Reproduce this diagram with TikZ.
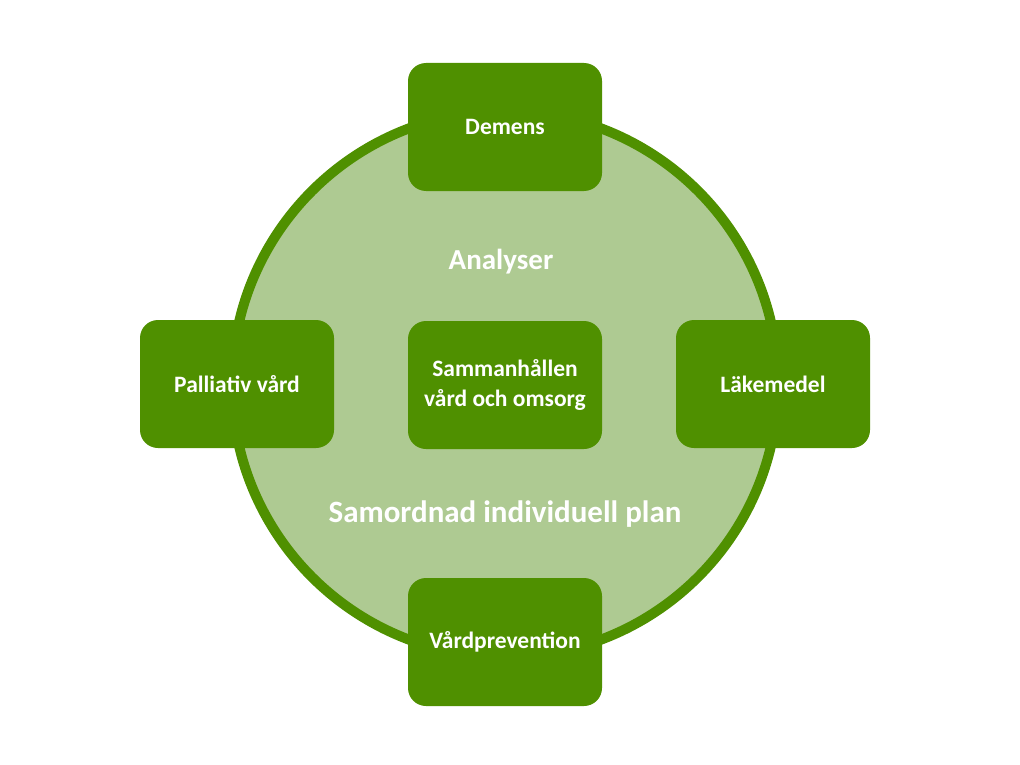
\documentclass[tikz,border=0pt]{standalone}
\usepackage{fontspec}
\setmainfont{Carlito}
\definecolor{dkgreen}{HTML}{4F9000}
\definecolor{ltgreen}{HTML}{AECA92}
\begin{document}
\begin{tikzpicture}[x=1pt,y=-1pt,
  box/.style={draw=none,fill=dkgreen,rounded corners=18pt,minimum width=194pt,minimum height=128pt,inner sep=0pt,text=white,font=\bfseries\fontsize{23.5}{30}\selectfont,align=center},
  lbl/.style={text=white,font=\bfseries\fontsize{#1}{#1}\selectfont,inner sep=0pt}]
\useasboundingbox (0,0) rectangle (1020,765);
\node[circle,draw=dkgreen,line width=10pt,fill=ltgreen,minimum size=546pt,inner sep=0pt] (ring) at (505,384) {};
\node[box] (demens) at (505,127) {Demens};
\node[box] (pall) at (237,384) {Palliativ vård};
\node[box] (center) at (505,385) {Sammanhållen\\vård och omsorg};
\node[box] (lake) at (773,384) {Läkemedel};
\node[box] (vard) at (505,642) {Vårdprevention};
\node[lbl=29] (analyser) at (501,262) {Analyser};
\node[lbl=31] (sip) at (505,514) {Samordnad individuell plan};
\end{tikzpicture}
\end{document}
